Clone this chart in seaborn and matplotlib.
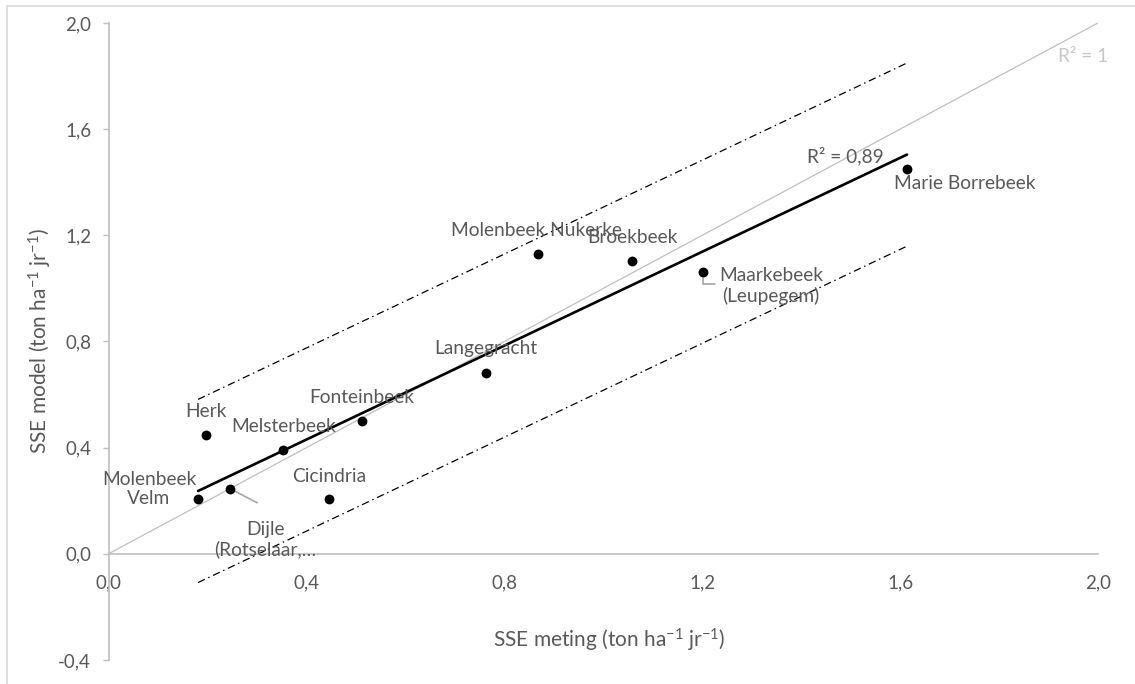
import numpy as np
import pandas as pd
import matplotlib
matplotlib.use("Agg")
import matplotlib.pyplot as plt
from matplotlib.lines import Line2D
import seaborn as sns

# ---------------- data ----------------
stations = ["Molenbeek\nVelm", "Dijle\n(Rotselaar,…", "Herk", "Melsterbeek", "Cicindria",
            "Fonteinbeek", "Langegracht", "Molenbeek Nukerke", "Broekbeek",
            "Maarkebeek\n(Leupegem)", "Marie Borrebeek"]
sse_meting = [0.181, 0.246, 0.197, 0.353, 0.446, 0.512, 0.763, 0.868, 1.058, 1.202, 1.614]
sse_model = [0.205, 0.245, 0.449, 0.390, 0.205, 0.500, 0.683, 1.130, 1.105, 1.062, 1.450]
band_offset = 0.345
r2_label = "R² = 0,89"
r2_ref_label = "R² = 1"
x_ticks = [0.0, 0.4, 0.8, 1.2, 1.6, 2.0]
y_ticks = [-0.4, 0.0, 0.4, 0.8, 1.2, 1.6, 2.0]

df = pd.DataFrame({"station": stations, "meting": sse_meting, "model": sse_model})

# ---------------- style ----------------
sns.set_style("white")
plt.rcParams["font.family"] = ["Lato", "DejaVu Sans"]
plt.rcParams["mathtext.fontset"] = "custom"
plt.rcParams["mathtext.rm"] = "Lato"
plt.rcParams["mathtext.it"] = "Lato:italic"
plt.rcParams["mathtext.bf"] = "Lato:bold"

TXT = "#595959"
AX = "#bfbfbf"
FS_LBL = 13.8
FS_TICK = 13.5
FS_TITLE = 15

fig = plt.figure(figsize=(11.35, 6.84), dpi=100)
ax = fig.add_axes([0.0956, 0.0351, 0.9674 - 0.0956, 0.9664 - 0.0351])

# 1:1 line
ax.plot([0, x_ticks[-1]], [0, y_ticks[-1]], color=AX, lw=0.9, zorder=1)

# regression line
sns.regplot(data=df, x="meting", y="model", scatter=False, ci=None, truncate=True,
            color="black", line_kws={"lw": 1.9, "zorder": 3}, ax=ax)

# band lines (fit +/- offset)
slope, intercept = np.polyfit(df["meting"], df["model"], 1)
xr = np.array([df["meting"].min(), df["meting"].max()])
for sgn in (1, -1):
    ax.plot(xr, slope * xr + intercept + sgn * band_offset, color="black", lw=0.9,
            linestyle=(0, (6, 3, 1.2, 3)), zorder=2)

# points
sns.scatterplot(data=df, x="meting", y="model", color="black", s=50, edgecolor="black",
                linewidth=0, zorder=4, ax=ax)

# point labels (pixel offsets)
offsets = {
    "Molenbeek\nVelm": (-49, 10),
    "Dijle\n(Rotselaar,…": (35, -51),
    "Herk": (0, 23),
    "Melsterbeek": (0, 24),
    "Cicindria": (0, 23),
    "Fonteinbeek": (0, 24),
    "Langegracht": (0, 24),
    "Molenbeek Nukerke": (-1, 23),
    "Broekbeek": (0, 23),
    "Maarkebeek\n(Leupegem)": (68, -14),
    "Marie Borrebeek": (58, -15),
}
for name, xv, yv in zip(stations, sse_meting, sse_model):
    dx, dy = offsets[name]
    ax.annotate(name, xy=(xv, yv), xytext=(dx, dy), textcoords="offset pixels",
                ha="center", va="center", ma="center", fontsize=FS_LBL, color=TXT,
                linespacing=1.15, zorder=5)

# leader lines
i_d = stations.index("Dijle\n(Rotselaar,…")
ax.annotate("", xy=(sse_meting[i_d], sse_model[i_d]), xytext=(27, -14),
            textcoords="offset pixels",
            arrowprops=dict(arrowstyle="-", color="#a6a6a6", lw=1.2, shrinkA=0, shrinkB=0))
i_m = stations.index("Maarkebeek\n(Leupegem)")
ax.annotate("", xy=(sse_meting[i_m], sse_model[i_m]), xytext=(12, -12),
            textcoords="offset pixels",
            arrowprops=dict(arrowstyle="-", color="#a6a6a6", lw=1.2, shrinkA=0, shrinkB=0,
                            connectionstyle="angle,angleA=0,angleB=90,rad=0"))

# R² labels
ax.text(1.49, 1.50, r2_label, fontsize=FS_LBL, color=TXT, ha="center", va="center")
ax.text(1.97, 1.875, r2_ref_label, fontsize=FS_LBL, color="#c8c8c8", ha="center", va="center")

# axes
ax.set_xlim(x_ticks[0], x_ticks[-1])
ax.set_ylim(y_ticks[0], y_ticks[-1])
ax.set_xticks(x_ticks)
ax.set_yticks(y_ticks)
fmt = lambda v: f"{v:.1f}".replace(".", ",")
ax.set_xticklabels([fmt(v) for v in x_ticks])
ax.set_yticklabels([fmt(v) for v in y_ticks])
ax.spines["bottom"].set_position(("data", 0))
ax.spines["top"].set_visible(False)
ax.spines["right"].set_visible(False)
for s in ("left", "bottom"):
    ax.spines[s].set_color(AX)
    ax.spines[s].set_linewidth(1.2)
ax.tick_params(axis="x", length=0, pad=15, labelsize=FS_TICK, labelcolor=TXT)
ax.tick_params(axis="y", length=4.5, width=1.0, color=AX, direction="out", pad=8,
               labelsize=FS_TICK, labelcolor=TXT, left=True)
ax.set_xlabel("")
ax.set_ylabel("")
ax.patch.set_alpha(0)

fig.text(0.5365, 1 - 640 / 684, "SSE meting (ton ha$^{-1}$ jr$^{-1}$)", ha="center",
         va="center", fontsize=FS_TITLE, color=TXT)
fig.text(40 / 1135, 1 - 341 / 684, "SSE model (ton ha$^{-1}$ jr$^{-1}$)", ha="center",
         va="center", rotation=90, fontsize=FS_TITLE, color=TXT)

# outer chart border (top and left visible)
fig.add_artist(Line2D([7 / 1135, 1.0], [1 - 6 / 684, 1 - 6 / 684], color="#d9d9d9", lw=1.2,
                      transform=fig.transFigure))
fig.add_artist(Line2D([7 / 1135, 7 / 1135], [0.0, 1 - 6 / 684], color="#d9d9d9", lw=1.2,
                      transform=fig.transFigure))

fig.savefig("out.png", dpi=100, facecolor="white")
